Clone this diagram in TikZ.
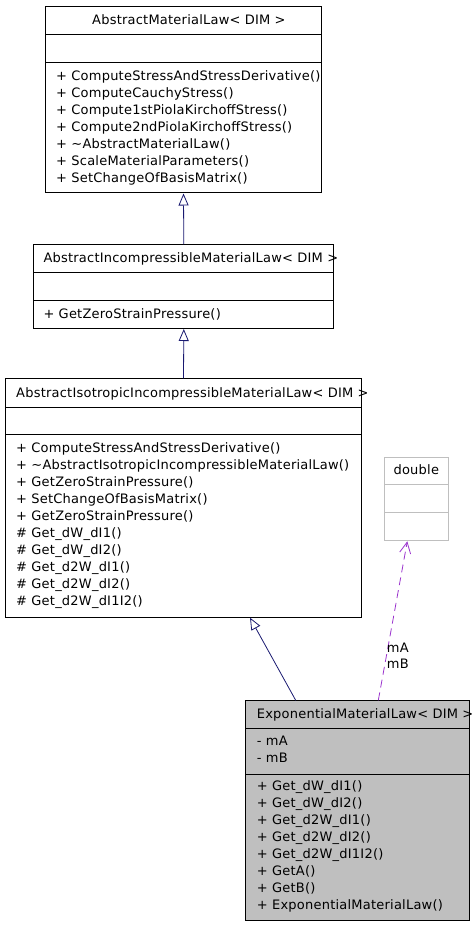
\documentclass[tikz,border=0pt]{standalone}
\usepackage{fontspec}
\setmainfont{DejaVu Sans}[LetterSpace=1.7]
\usetikzlibrary{arrows.meta,positioning,calc}

\definecolor{edgeblue}{HTML}{191970}
\definecolor{usepurple}{HTML}{9A32CD}
\definecolor{boxgray}{HTML}{BFBFBF}
\newcommand{\umlfont}{\fontsize{13}{17}\selectfont}

\begin{document}
\begin{tikzpicture}[x=1pt,y=-1pt,
    every node/.style={font=\umlfont},
    part/.style={draw, rectangle, anchor=north west, inner sep=0pt, line width=1pt},
    txt/.style={anchor=base west, inner sep=0pt},
    inherit/.style={draw=edgeblue, line width=0.8pt,
        -{Triangle[open, length=12pt, width=10pt, fill=white]}},
    uses/.style={draw=usepurple, line width=0.8pt, dash pattern=on 8pt off 5pt,
        -{Straight Barb[length=11pt, width=11pt]}}]
    \useasboundingbox (0,0) rectangle (475,925);

    % AbstractMaterialLaw
    \node[part, minimum width=276pt, minimum height=27.5pt] at (45,6.5) (aml0) {};
    \node[part, minimum width=276pt, minimum height=28pt] at (45,34) (aml1) {};
    \node[part, minimum width=276pt, minimum height=130.5pt] at (45,62) (aml2) {};
    \node[txt] at (92,25) (amlT) {AbstractMaterialLaw< DIM >};
    \foreach \m [count=\i from 0] in {%
        + ComputeStressAndStressDerivative(),
        + ComputeCauchyStress(),
        + Compute1stPiolaKirchoffStress(),
        + Compute2ndPiolaKirchoffStress(),
        + \textasciitilde AbstractMaterialLaw(),
        + ScaleMaterialParameters(),
        + SetChangeOfBasisMatrix()}
    {%
    \node[txt] at (56,80.5+17*\i) (amlM\i) {\m};
    }

    % AbstractIncompressibleMaterialLaw
    \node[part, minimum width=300pt, minimum height=28pt] at (33.3,244.3) (aiml0) {};
    \node[part, minimum width=300pt, minimum height=28pt] at (33.3,272.3) (aiml1) {};
    \node[part, minimum width=300pt, minimum height=27.7pt] at (33.3,300.3) (aiml2) {};
    \node[txt] at (43.3,262.4) (aimlT) {AbstractIncompressibleMaterialLaw< DIM >};
    \node[txt] at (43.3,318) (aimlM0) {+ GetZeroStrainPressure()};

    % AbstractIsotropicIncompressibleMaterialLaw
    \node[part, minimum width=355.4pt, minimum height=28.2pt] at (5.3,378.3) (aiiml0) {};
    \node[part, minimum width=355.4pt, minimum height=27.8pt] at (5.3,406.5) (aiiml1) {};
    \node[part, minimum width=355.4pt, minimum height=182.4pt] at (5.3,434.3) (aiiml2) {};
    \node[txt] at (16,397) (aiimlT) {AbstractIsotropicIncompressibleMaterialLaw< DIM >};
    \foreach \m [count=\i from 0] in {%
        + ComputeStressAndStressDerivative(),
        + \textasciitilde AbstractIsotropicIncompressibleMaterialLaw(),
        + GetZeroStrainPressure(),
        + SetChangeOfBasisMatrix(),
        + GetZeroStrainPressure(),
        \# Get\_dW\_dI1(),
        \# Get\_dW\_dI2(),
        \# Get\_d2W\_dI1(),
        \# Get\_d2W\_dI2(),
        \# Get\_d2W\_dI1I2()}
    {%
    \node[txt] at (16,452.4+17*\i) (aiimlM\i) {\m};
    }

    % double
    \node[part, draw=boxgray, minimum width=64pt, minimum height=27.6pt] at (384.3,456.7) (dbl0) {};
    \node[part, draw=boxgray, minimum width=64pt, minimum height=28pt] at (384.3,484.3) (dbl1) {};
    \node[part, draw=boxgray, minimum width=64pt, minimum height=28pt] at (384.3,512.3) (dbl2) {};
    \node[anchor=base, inner sep=0pt] at (416.3,474.5) (dblT) {double};

    % ExponentialMaterialLaw
    \node[part, fill=boxgray, minimum width=224pt, minimum height=28pt] at (245.3,700.3) (eml0) {};
    \node[part, fill=boxgray, minimum width=224pt, minimum height=45.4pt] at (245.3,728.3) (eml1) {};
    \node[part, fill=boxgray, minimum width=224pt, minimum height=146.3pt] at (245.3,773.7) (eml2) {};
    \node[txt] at (256.7,718.4) (emlT) {ExponentialMaterialLaw< DIM >};
    \node[txt] at (256.7,745.4) (emlA0) {- mA};
    \node[txt] at (256.7,762.4) (emlA1) {- mB};
    \foreach \m [count=\i from 0] in {%
        + Get\_dW\_dI1(),
        + Get\_dW\_dI2(),
        + Get\_d2W\_dI1(),
        + Get\_d2W\_dI2(),
        + Get\_d2W\_dI1I2(),
        + GetA(),
        + GetB(),
        + ExponentialMaterialLaw()}
    {%
    \node[txt] at (256.7,790.4+17*\i) (emlM\i) {\m};
    }

    % connections
    \draw[inherit] (aiml0.north) -- (aml2.south);
    \draw[inherit] (aiiml0.north) -- (aiml2.south);
    \draw[inherit] ([xshift=50.4pt]eml0.north west) -- ([xshift=244.7pt]aiiml2.south west);
    \draw[uses] ([xshift=133pt]eml0.north west) -- ([xshift=23pt]dbl2.south west);
    \node[txt] at (386.7,652.8) (lblA) {mA};
    \node[txt] at (386.7,668.8) (lblB) {mB};
\end{tikzpicture}
\end{document}
